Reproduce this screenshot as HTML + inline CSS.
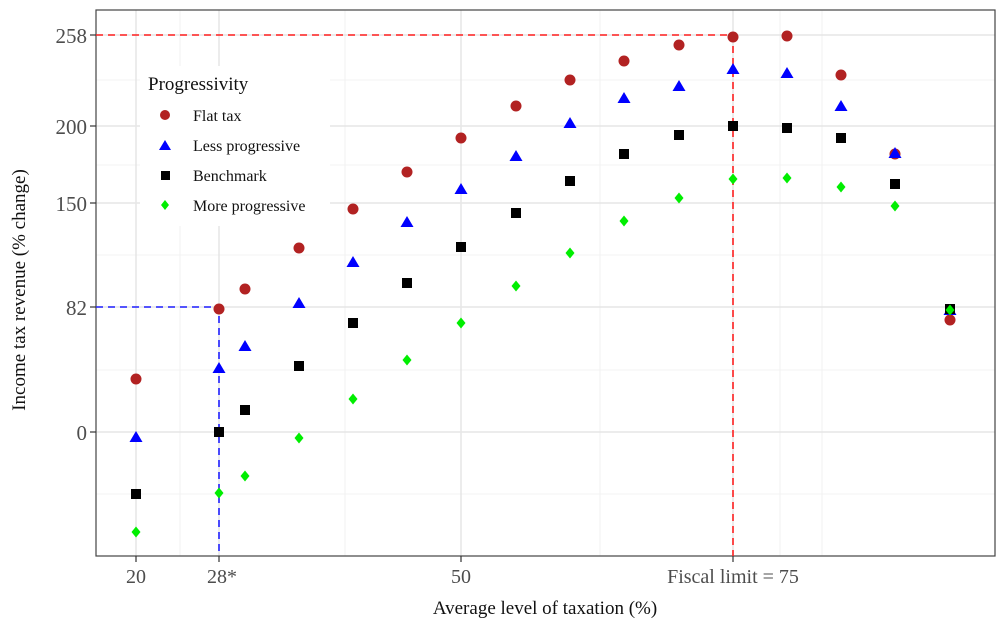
<!DOCTYPE html>
<html><head><style>body{margin:0;background:#fff}svg{display:block}text{font-family:"Liberation Serif",serif}</style></head><body>
<svg width="1005" height="632" viewBox="0 0 1005 632">
<rect x="0" y="0" width="1005" height="632" fill="#fff"/>
<g stroke="#efefef" stroke-width="0.8">
<line x1="96" x2="995" y1="80" y2="80"/><line x1="96" x2="995" y1="165" y2="165"/><line x1="96" x2="995" y1="255" y2="255"/><line x1="96" x2="995" y1="370" y2="370"/><line x1="96" x2="995" y1="494" y2="494"/>
<line y1="10" y2="556" x1="180" x2="180"/><line y1="10" y2="556" x1="345" x2="345"/><line y1="10" y2="556" x1="600" x2="600"/><line y1="10" y2="556" x1="780" x2="780"/><line y1="10" y2="556" x1="822" x2="822"/>
</g>
<g stroke="#e6e6e6" stroke-width="1.5">
<line x1="96" x2="995" y1="35" y2="35"/><line x1="96" x2="995" y1="126" y2="126"/><line x1="96" x2="995" y1="203" y2="203"/><line x1="96" x2="995" y1="307" y2="307"/><line x1="96" x2="995" y1="432" y2="432"/>
<line y1="10" y2="556" x1="136" x2="136"/><line y1="10" y2="556" x1="219" x2="219"/><line y1="10" y2="556" x1="461" x2="461"/><line y1="10" y2="556" x1="733" x2="733"/>
</g>
<rect x="96" y="10" width="899" height="546" fill="none" stroke="#444" stroke-width="1.2"/>
<g stroke="#333" stroke-width="1.2">
<line x1="90" x2="96" y1="35" y2="35"/><line x1="90" x2="96" y1="126" y2="126"/><line x1="90" x2="96" y1="203" y2="203"/><line x1="90" x2="96" y1="307" y2="307"/><line x1="90" x2="96" y1="432" y2="432"/>
<line y1="556" y2="562" x1="136" x2="136"/><line y1="556" y2="562" x1="219" x2="219"/><line y1="556" y2="562" x1="461" x2="461"/><line y1="556" y2="562" x1="733" x2="733"/>
</g>
<g fill="#4d4d4d" font-size="21" text-anchor="end">
<text x="87" y="43">258</text><text x="87" y="134">200</text><text x="87" y="211">150</text><text x="87" y="315">82</text><text x="87" y="440">0</text>
</g>
<g fill="#4d4d4d" font-size="20" text-anchor="middle">
<text x="136" y="583">20</text><text x="222" y="583">28*</text><text x="461" y="583">50</text><text x="733" y="583">Fiscal limit = 75</text>
</g>
<text x="545" y="614" font-size="19" text-anchor="middle" fill="#111">Average level of taxation (%)</text>
<text transform="translate(25,290) rotate(-90)" font-size="19" text-anchor="middle" fill="#111">Income tax revenue (% change)</text>
<g stroke-dasharray="7,5" stroke-width="1.6" fill="none">
<path d="M96 35H733V556" stroke="#ff2020"/>
<path d="M96 307H219V556" stroke="#2020ff"/>
</g>
<rect x="140" y="66" width="190" height="160" fill="#fff"/>
<text x="148" y="90" font-size="19" fill="#111">Progressivity</text>
<g font-size="16" fill="#111">
<text x="193" y="121">Flat tax</text><text x="193" y="151">Less progressive</text><text x="193" y="181">Benchmark</text><text x="193" y="211">More progressive</text>
</g>
<circle cx="165" cy="115" r="5" fill="#b22222"/>
<path d="M159 150h12l-6-10z" fill="#0000ff"/>
<rect x="161" y="171" width="9" height="9" fill="#000"/>
<path d="M165 200l4 5-4 5-4-5z" fill="#00ee00"/>
<g id="pts"></g>
</svg>
<script>
var xs=[136,219,245,299,353,407,461,516,570,624,679,733,787,841,895,950];
var fl=[379,309,289,248,209,172,138,106,80,61,45,37,36,75,154,320];
var le=[437,368,346,303,262,222,189,156,123,98,86,69,73,106,153,310];
var be=[494,432,410,366,323,283,247,213,181,154,135,126,128,138,184,309];
var mo=[532,493,476,438,399,360,323,286,253,221,198,179,178,187,206,310];
var s='';
for(var i=0;i<16;i++){var x=xs[i];
s+='<circle cx="'+x+'" cy="'+fl[i]+'" r="5.5" fill="#b22222"/>';
s+='<path d="M'+(x-6.5)+' '+(le[i]+5)+'h13l-6.5-11z" fill="#0000ff"/>';
s+='<rect x="'+(x-5)+'" y="'+(be[i]-5)+'" width="10" height="10" fill="#000"/>';
s+='<path d="M'+x+' '+(mo[i]-5.5)+'l4.5 5.5-4.5 5.5-4.5-5.5z" fill="#00ee00"/>';}
document.getElementById('pts').innerHTML=s;
</script>
</body></html>
